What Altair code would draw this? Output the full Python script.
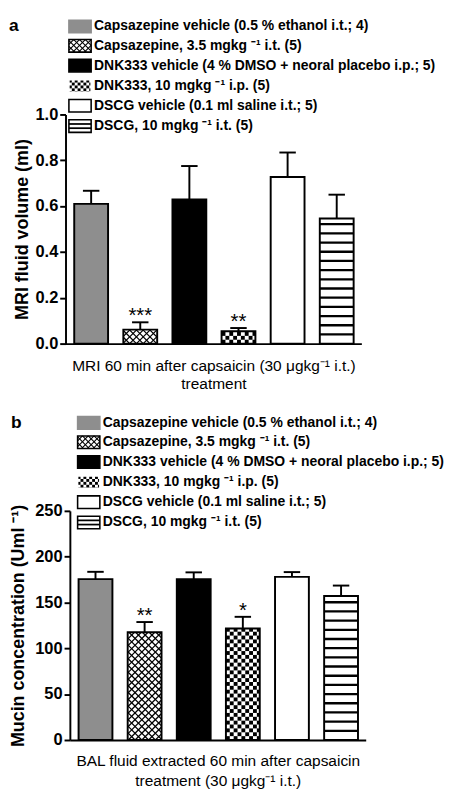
import altair as alt
import pandas as pd
import numpy as np

# ---------------- data ----------------
GROUPS = [
    "Capsazepine vehicle (0.5 % ethanol i.t.; 4)",
    "Capsazepine, 3.5 mgkg \u207b\u00b9 i.t. (5)",
    "DNK333 vehicle (4 % DMSO + neoral placebo i.p.; 5)",
    "DNK333, 10 mgkg \u207b\u00b9 i.p. (5)",
    "DSCG vehicle (0.1 ml saline i.t.; 5)",
    "DSCG, 10 mgkg \u207b\u00b9 i.t. (5)",
]
MRI_MEAN = [0.610, 0.061, 0.629, 0.054, 0.727, 0.546]
MRI_SEM = [0.057, 0.032, 0.146, 0.014, 0.107, 0.104]
MRI_STARS = ["", "***", "", "**", "", ""]
MUCIN_MEAN = [175.5, 117.5, 175.5, 121.7, 178.0, 157.2]
MUCIN_SEM = [8.0, 11.2, 7.4, 12.7, 5.2, 11.3]
MUCIN_STARS = ["", "**", "", "*", "", ""]
MRI_TICKS = [0.0, 0.2, 0.4, 0.6, 0.8, 1.0]
MUCIN_TICKS = [0, 50, 100, 150, 200, 250]

FILLS = ["#8e8e8e", "#ffffff", "#000000", "#ffffff", "#ffffff", "#ffffff"]
PATTERNS = ["solid", "cross", "solid", "checker", "solid", "hstripe"]

# ---------------- layout / style ----------------
FONT = "Liberation Sans"
W, H = 306, 237
STEP = 50.8          # px per category
BAR_W = 35.0
CAP_W = 17.0
XMIN = 1 - 26.5 / STEP
XMAX = XMIN + W / STEP
ROW_Y = [-91, -71, -50.5, -29.5, -9, 12]
SW_X, SW_W, SW_H = 8, 23, 13
TXT_X = 34


def clip_seg(x0, y0, x1, y1, xmin, xmax, ymin, ymax):
    dx, dy = x1 - x0, y1 - y0
    t0, t1 = 0.0, 1.0
    for p, q in ((-dx, x0 - xmin), (dx, xmax - x0), (-dy, y0 - ymin), (dy, ymax - y0)):
        if p == 0:
            if q < 0:
                return None
        else:
            t = q / p
            if p < 0:
                if t > t1:
                    return None
                t0 = max(t0, t)
            else:
                if t < t0:
                    return None
                t1 = min(t1, t)
    if t1 - t0 < 1e-6:
        return None
    return (x0 + t0 * dx, y0 + t0 * dy, x0 + t1 * dx, y0 + t1 * dy)


def cross_lines(w, h, d=7.0):
    segs = []
    L = w + h + 2 * d
    c = -h - d
    while c < w + h + d:
        for s in (clip_seg(c - L, -L, c + L, L, 0, w, 0, h),
                  clip_seg(c + L, -L, c - L, L, 0, w, 0, h)):
            if s:
                segs.append(s)
        c += d
    return segs


def checker_cells(w, h, c=4.0):
    cells = []
    nx, ny = int(np.ceil(w / c)), int(np.ceil(h / c))
    for i in range(nx):
        for j in range(ny):
            if (i + j) % 2 == 0:
                cells.append((i * c, min((i + 1) * c, w), j * c, min((j + 1) * c, h)))
    return cells


def stripe_lines(w, h, s=9.5):
    segs = []
    v = s
    while v < h - 2:
        segs.append((0, v, w, v))
        v += s
    return segs


def panel(mean, sem, stars, ymax, yvals, yfmt, ytitle, xtitle, letter, letter_x,
          ytitle_pad, xtitle_pad, xtitle_lh, xoff, loff):
    xs = alt.Scale(domain=[XMIN, XMAX], range=[-xoff, W - xoff], nice=False, zero=False)
    ys = alt.Scale(domain=[0, ymax], nice=False, zero=True)
    xaxis = alt.Axis(title=xtitle, labels=False, ticks=False, grid=False,
                     domainColor="black", domainWidth=2,
                     titleFont=FONT, titleFontSize=16, titleFontWeight="normal",
                     titleColor="black", titlePadding=xtitle_pad, titleLineHeight=xtitle_lh)
    yaxis = alt.Axis(title=ytitle, values=yvals, format=yfmt, grid=False, offset=xoff,
                     domainColor="black", domainWidth=2,
                     tickColor="black", tickWidth=2, tickSize=6,
                     labelFont=FONT, labelFontSize=17, labelFontWeight="bold",
                     labelColor="black", labelPadding=2,
                     titleFont=FONT, titleFontSize=18.5, titleFontWeight="bold",
                     titleColor="black", titlePadding=ytitle_pad)

    def X(f):
        return alt.X(f, type="quantitative", scale=xs, axis=xaxis)

    def Y(f):
        return alt.Y(f, type="quantitative", scale=ys, axis=yaxis)

    hb = BAR_W / 2 / STEP
    hc = CAP_W / 2 / STEP
    pos = list(range(1, 7))
    df = pd.DataFrame({
        "group": GROUPS, "pos": pos, "mean": mean, "sem": sem, "star": stars,
        "fill": FILLS,
    })
    df["top"] = df["mean"] + df["sem"]
    df["xl"] = df["pos"] - hb
    df["xr"] = df["pos"] + hb
    df["cl"] = df["pos"] - hc
    df["cr"] = df["pos"] + hc
    df["zero"] = 0.0

    # pattern geometry derived from bar values (local px -> data units)
    rules, rects, stripes = [], [], []
    for i, pat in enumerate(PATTERNS):
        hpx = mean[i] / ymax * H
        xl = pos[i] - hb
        conv = lambda u, v: (xl + u / STEP, v * ymax / H)
        if pat == "cross":
            for (u0, v0, u1, v1) in cross_lines(BAR_W, hpx):
                a, b = conv(u0, v0); c, d = conv(u1, v1)
                rules.append({"x": a, "y": b, "x2": c, "y2": d})
        elif pat == "checker":
            for (u0, u1, v0, v1) in checker_cells(BAR_W, hpx):
                a, b = conv(u0, v0); c, d = conv(u1, v1)
                rects.append({"x": a, "y": b, "x2": c, "y2": d})
        elif pat == "hstripe":
            for (u0, v0, u1, v1) in stripe_lines(BAR_W, hpx):
                a, b = conv(u0, v0); c, d = conv(u1, v1)
                stripes.append({"x": a, "y": b, "x2": c, "y2": d})

    bars = alt.Chart(df).mark_rect().encode(
        x=X("xl"), x2="xr", y=Y("zero"), y2="mean",
        fill=alt.Fill("fill:N", scale=None))
    cross = alt.Chart(pd.DataFrame(rules)).mark_rule(color="black", strokeWidth=1.3).encode(
        x=X("x"), x2="x2", y=Y("y"), y2="y2")
    checker = alt.Chart(pd.DataFrame(rects)).mark_rect(color="black").encode(
        x=X("x"), x2="x2", y=Y("y"), y2="y2")
    stripe = alt.Chart(pd.DataFrame(stripes)).mark_rule(color="black", strokeWidth=2.4).encode(
        x=X("x"), x2="x2", y=Y("y"))
    outline = alt.Chart(df).mark_rect(fillOpacity=0, stroke="black", strokeWidth=2).encode(
        x=X("xl"), x2="xr", y=Y("zero"), y2="mean")
    err = alt.Chart(df).mark_rule(color="black", strokeWidth=2).encode(
        x=X("pos"), y=Y("mean"), y2="top")
    cap = alt.Chart(df).mark_rule(color="black", strokeWidth=2).encode(
        x=X("cl"), x2="cr", y=Y("top"))
    star = alt.Chart(df).mark_text(font=FONT, fontSize=21, baseline="bottom", dy=4,
                                   color="black").encode(
        x=X("pos"), y=Y("top"), text="star:N")
    plot = alt.layer(bars, cross, checker, stripe, outline, err, cap, star)

    # ---------- legend (pixel space) ----------
    lxs = alt.Scale(domain=[0, W], range=[-loff, W - loff], nice=False, zero=False)
    lys = alt.Scale(domain=[0, H], range=[0, H], nice=False, zero=False)

    def LX(f):
        return alt.X(f, type="quantitative", scale=lxs, axis=None)

    def LY(f):
        return alt.Y(f, type="quantitative", scale=lys, axis=None)

    sw = pd.DataFrame({
        "label": GROUPS, "fill": FILLS,
        "stroke": ["#8e8e8e", "black", "black", "white", "black", "black"],
        "y": ROW_Y,
    })
    sw["x"] = SW_X
    sw["x2"] = SW_X + SW_W
    sw["y0"] = sw["y"] - SW_H / 2
    sw["y1"] = sw["y"] + SW_H / 2
    sw["tx"] = TXT_X
    lrules, lrects = [], []
    for i, pat in enumerate(PATTERNS):
        x0, y0 = SW_X, ROW_Y[i] - SW_H / 2
        if pat == "cross":
            for (u0, v0, u1, v1) in cross_lines(SW_W, SW_H, 6.0):
                lrules.append({"x": x0 + u0, "y": y0 + v0, "x2": x0 + u1, "y2": y0 + v1, "w": 1.1})
        elif pat == "checker":
            for (u0, u1, v0, v1) in checker_cells(SW_W, SW_H, 3.0):
                lrects.append({"x": x0 + u0, "y": y0 + v0, "x2": x0 + u1, "y2": y0 + v1})
        elif pat == "hstripe":
            for (u0, v0, u1, v1) in stripe_lines(SW_W, SW_H, SW_H / 3):
                lrules.append({"x": x0 + u0, "y": y0 + v0, "x2": x0 + u1, "y2": y0 + v1, "w": 1.8})
    lsw = alt.Chart(sw).mark_rect().encode(
        x=LX("x"), x2="x2", y=LY("y0"), y2="y1", fill=alt.Fill("fill:N", scale=None))
    lpat_r = alt.Chart(pd.DataFrame(lrules)).mark_rule(color="black").encode(
        x=LX("x"), x2="x2", y=LY("y"), y2="y2",
        strokeWidth=alt.StrokeWidth("w:Q", scale=None))
    lpat_c = alt.Chart(pd.DataFrame(lrects)).mark_rect(color="black").encode(
        x=LX("x"), x2="x2", y=LY("y"), y2="y2")
    lbox = alt.Chart(sw).mark_rect(fillOpacity=0, strokeWidth=1.6).encode(
        x=LX("x"), x2="x2", y=LY("y0"), y2="y1",
        stroke=alt.Stroke("stroke:N", scale=None))
    ltxt = alt.Chart(sw).mark_text(font=FONT, fontSize=14.4, fontWeight="bold",
                                   align="left", baseline="middle", color="black").encode(
        x=LX("tx"), y=LY("y"), text="label:N")
    lab = alt.Chart(pd.DataFrame({"t": [letter], "x": [letter_x], "y": [ROW_Y[0]]})).mark_text(
        font=FONT, fontSize=18, fontWeight="bold", align="left", baseline="middle",
        color="black").encode(x=LX("x"), y=LY("y"), text="t:N")
    legend = alt.layer(lsw, lpat_r, lpat_c, lbox, ltxt, lab)

    return alt.layer(plot, legend).resolve_scale(x="independent", y="independent").properties(
        width=W, height=H)


pa = panel(MRI_MEAN, MRI_SEM, MRI_STARS, 1.0, MRI_TICKS, ".1f",
           "MRI fluid volume (ml)",
           ["MRI 60 min after capsaicin (30  \u03bcgkg\u207b\u00b9 i.t.)", "treatment"],
           "a", -54, 4, 15, 18.5, 4.5, 9)
pb = panel(MUCIN_MEAN, MUCIN_SEM, MUCIN_STARS, 250, MUCIN_TICKS, "d",
           "Mucin concentration (Uml \u207b\u00b9)",
           ["BAL fluid extracted 60 min after capsaicin", "treatment (30  \u03bcgkg\u207b\u00b9 i.t.)"],
           "b", -61, 8, 13, 21.5, 0, 0)

chart = alt.vconcat(pa, pb, spacing=173, bounds="flush").properties(
    padding={"left": 0, "top": -3.5, "right": 0, "bottom": 0}
).configure_view(stroke=None)

chart.save("out.html", embed_options={"renderer": "svg", "actions": False})
